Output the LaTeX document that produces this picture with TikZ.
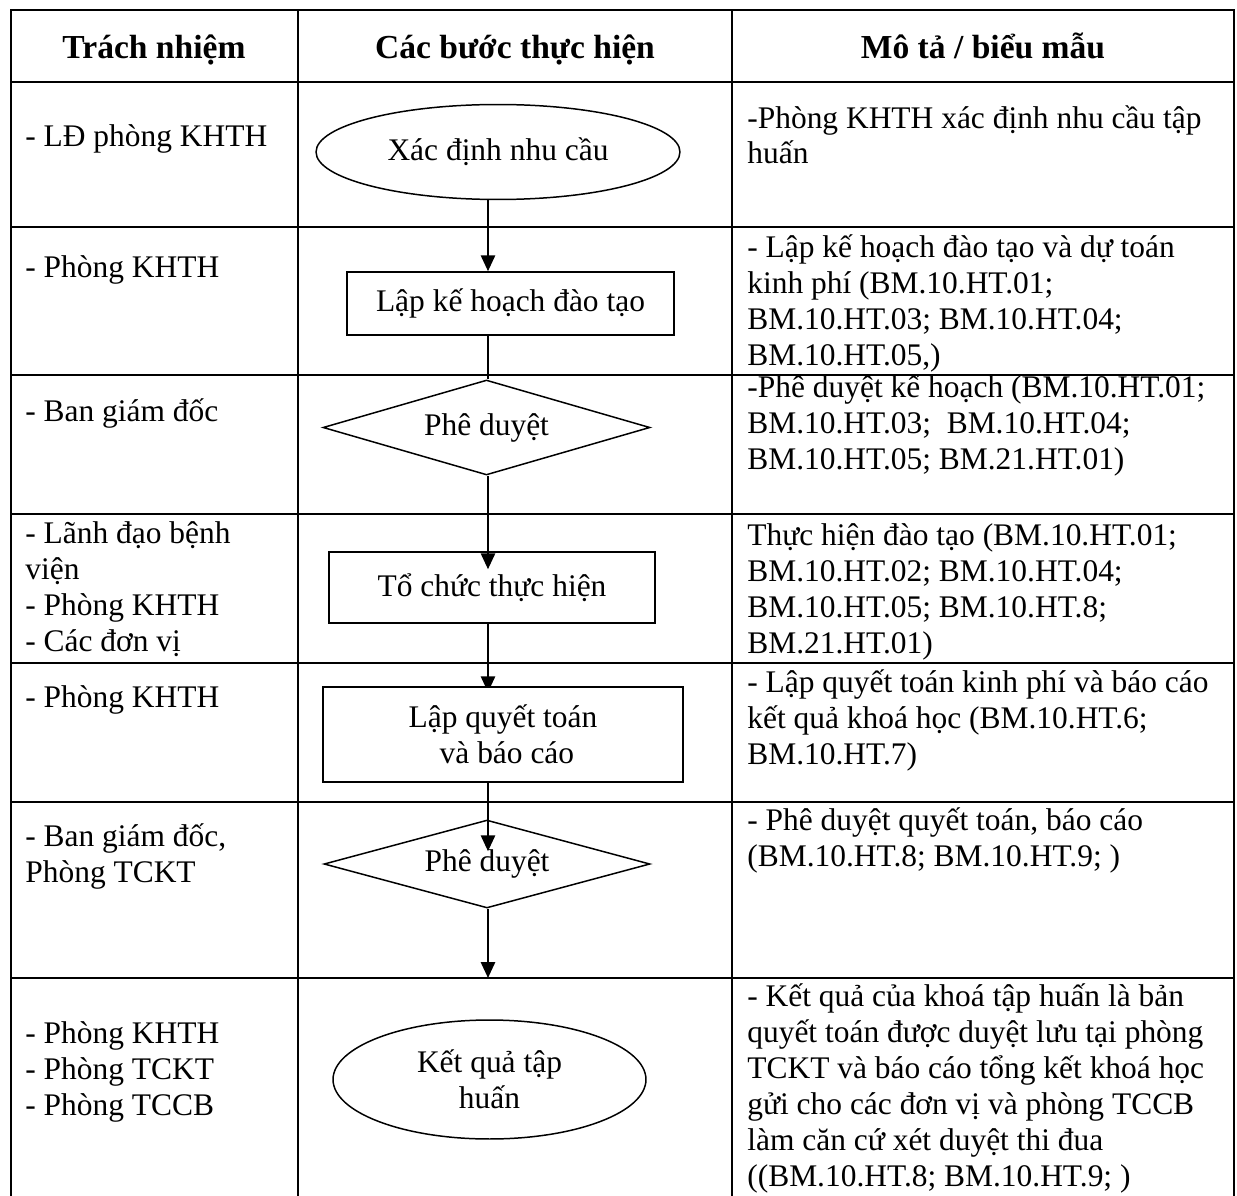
\documentclass[tikz,border=0pt]{standalone}
\usepackage{fontspec}
\setmainfont{Liberation Serif}
\usetikzlibrary{shapes.geometric,arrows.meta,backgrounds}

\begin{document}
\begin{tikzpicture}[x=0.02cm,y=-0.02cm,
    every node/.style={font=\fontsize{17.9}{20.4}\selectfont},
    stepbox/.style={draw,rectangle,line width=0.85pt,inner sep=0pt,align=center},
    term/.style={draw,ellipse,line width=0.85pt,inner sep=0pt,align=center},
    check/.style={draw,diamond,aspect=3.4,line width=0.85pt,inner sep=0pt},
    cell/.style={anchor=base west,align=left,inner sep=0pt},
    head/.style={anchor=base,inner sep=0pt,font=\fontsize{19.1}{22}\selectfont\bfseries},
    flow/.style={line width=1.25pt,-{Triangle[length=9pt,width=8pt]}}]

  \useasboundingbox (0,0) rectangle (1237,1196);

  % table
  \begin{scope}[line width=1.1pt]
    \draw (11,1196) -- (11,10) -- (1234,10) -- (1234,1196);
    \draw (298,10) -- (298,1196);
    \draw (732,10) -- (732,1196);
    \foreach \y in {82,227,375,514,663,802,978}
      \draw (11,\y) -- (1234,\y);
  \end{scope}

  \node[head] (h1) at (154,59) {Trách nhiệm};
  \node[head] (h2) at (515,59) {Các bước thực hiện};
  \node[head] (h3) at (983,59) {Mô tả / biểu mẫu};

  % who (placed at the baseline of the last line)
  \begin{scope}[every node/.append style={cell}]
    \node (w1) at (25,147)  {- LĐ phòng KHTH};
    \node (w2) at (25,277)  {- Phòng KHTH};
    \node (w3) at (25,421)  {- Ban giám đốc};
    \node (w4) at (25,651)  {- Lãnh đạo bệnh\\viện\\- Phòng KHTH\\- Các đơn vị};
    \node (w5) at (25,707)  {- Phòng KHTH};
    \node (w6) at (25,882)  {- Ban giám đốc,\\Phòng TCKT};
    \node (w7) at (25,1115) {- Phòng KHTH\\- Phòng TCKT\\- Phòng TCCB};
  \end{scope}

  % forms (placed at the baseline of the last line)
  \begin{scope}[every node/.append style={cell}]
    \node (d1) at (747,164)  {-Phòng KHTH xác định nhu cầu tập\\huấn};
    \node (d2) at (747,365)  {- Lập kế hoạch đào tạo và dự toán\\kinh phí (BM.10.HT.01;\\BM.10.HT.03; BM.10.HT.04;\\BM.10.HT.05,)};
    \node (d3) at (747,469)  {-Phê duyệt kế hoạch (BM.10.HT.01;\\BM.10.HT.03;\ \ BM.10.HT.04;\\BM.10.HT.05; BM.21.HT.01)};
    \node (d4) at (747,653)  {Thực hiện đào tạo (BM.10.HT.01;\\BM.10.HT.02; BM.10.HT.04;\\BM.10.HT.05; BM.10.HT.8;\\BM.21.HT.01)};
    \node (d5) at (747,764)  {- Lập quyết toán kinh phí và báo cáo\\kết quả khoá học (BM.10.HT.6;\\BM.10.HT.7)};
    \node (d6) at (747,866)  {- Phê duyệt quyết toán, báo cáo\\(BM.10.HT.8; BM.10.HT.9; )};
    \node (d7) at (747,1186) {- Kết quả của khoá tập huấn là bản\\quyết toán được duyệt lưu tại phòng\\TCKT và báo cáo tổng kết khoá học\\gửi cho các đơn vị và phòng TCCB\\làm căn cứ xét duyệt thi đua\\((BM.10.HT.8; BM.10.HT.9; )};
  \end{scope}

  % steps
  \node[term,minimum width=7.28cm,minimum height=1.9cm] (need) at (498,152) {Xác định nhu cầu};
  \node[stepbox,minimum width=6.54cm,minimum height=1.26cm] (plan) at (510.5,303.5) {Lập kế hoạch đào tạo};
  \node[check,minimum width=6.54cm,minimum height=1.9cm] (approve) at (486.5,427.5) {Phê duyệt};
  \node[stepbox,minimum width=6.52cm,minimum height=1.42cm] (run) at (492,587.5) {Tổ chức thực hiện};
  \node[stepbox,fill=white,minimum width=7.2cm,minimum height=1.9cm] (settle) at (503,734.5) {Lập quyết toán\\\ và báo cáo};
  \node[check,minimum width=6.52cm,minimum height=1.76cm] (approve2) at (487,864) {Phê duyệt};
  \node[term,minimum width=6.26cm,minimum height=2.38cm] (result) at (489.5,1079.5) {Kết quả tập\\huấn};

  \begin{scope}[on background layer]
    \coordinate (axis) at (488,0);
    \coordinate (rowend) at (488,978);
    \draw[flow] (need.south -| axis) -- (plan.north -| axis);
    \draw[line width=1.25pt] (plan.south -| axis) -- (approve.north -| axis);
    \draw[flow,shorten >=-0.36cm] (approve.south -| axis) -- (run.north -| axis);
    \draw[flow,shorten >=-0.12cm] (run.south -| axis) -- (settle.north -| axis);
    \draw[flow,shorten >=-0.64cm] (settle.south -| axis) -- (approve2.north -| axis);
    \draw[flow] (approve2.south -| axis) -- (rowend);
  \end{scope}

\end{tikzpicture}
\end{document}
